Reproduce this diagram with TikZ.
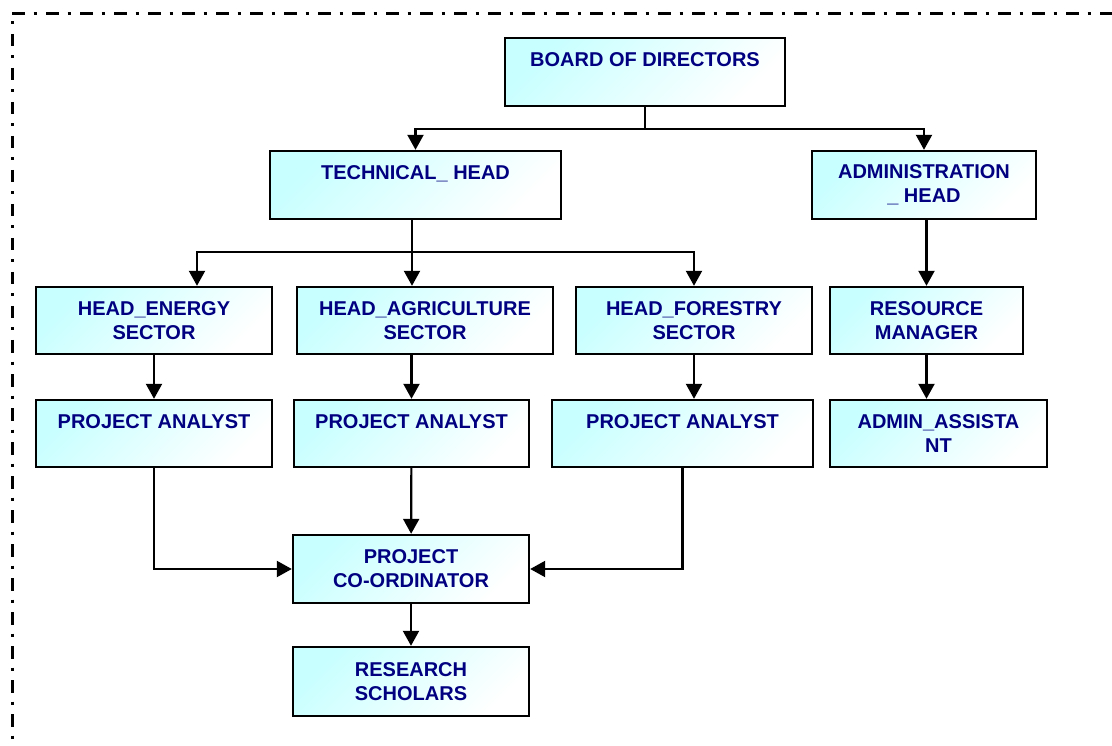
\documentclass[tikz,border=0pt]{standalone}
\usepackage{fontspec}
\setmainfont{Liberation Sans}
\usetikzlibrary{arrows.meta}
\definecolor{boxcyan}{RGB}{200,255,255}
\definecolor{navytext}{RGB}{0,0,128}
\begin{document}
\begin{tikzpicture}[x=1pt, y=-1pt,
    box/.style={rectangle, draw, line width=2.4pt, inner sep=0pt, top color=boxcyan, bottom color=white, shading angle=45, align=center, text=navytext, font=\fontsize{20}{24}\selectfont\bfseries},
    link/.style={line width=2.2pt},
    arr/.style={line width=2.2pt, -{Triangle[length=15pt, width=16pt]}},
    frame/.style={line width=3pt, dash pattern=on 12.5pt off 9pt on 3pt off 9.5pt}]
      \useasboundingbox (0,0) rectangle (1112,746);
      \draw[frame] (12,14) -- (1112,14);
      \draw[frame, dash phase=14pt] (12,14) -- (12,746);

      \node[box, minimum width=280, minimum height=68] at (645,72)      (bod)      {BOARD OF DIRECTORS\\\mbox{}};
      \node[box, minimum width=291, minimum height=68] at (415.5,185)   (tech)     {TECHNICAL\_ HEAD\\\mbox{}};
      \node[box, minimum width=224, minimum height=68] at (924,185)     (admin)    {ADMINISTRATION\\\_ HEAD};
      \node[box, minimum width=236, minimum height=67] at (154,320.5)   (energy)   {HEAD\_ENERGY\\SECTOR};
      \node[box, minimum width=256, minimum height=67] at (425,320.5)   (agri)     {HEAD\_AGRICULTURE\\SECTOR};
      \node[box, minimum width=236, minimum height=67] at (694,320.5)   (forestry) {HEAD\_FORESTRY\\SECTOR};
      \node[box, minimum width=193, minimum height=67] at (926.5,320.5) (resource) {RESOURCE\\MANAGER};
      \node[box, minimum width=236, minimum height=67] at (154,433.5)   (pa1)      {PROJECT ANALYST\\\mbox{}};
      \node[box, minimum width=235, minimum height=67] at (411.5,433.5) (pa2)      {PROJECT ANALYST\\\mbox{}};
      \node[box, minimum width=261, minimum height=67] at (682.5,433.5) (pa3)      {PROJECT ANALYST\\\mbox{}};
      \node[box, minimum width=217, minimum height=67] at (938.5,433.5) (asst)     {ADMIN\_ASSISTA\\NT};
      \node[box, minimum width=236, minimum height=68] at (411,569)     (pc)       {PROJECT\\CO-ORDINATOR};
      \node[box, minimum width=236, minimum height=69] at (411,681.5)   (rs)       {RESEARCH\\SCHOLARS};

      \draw[link] (bod.south) -- ++(0,22) coordinate (bodj);
      \draw[arr]  (bodj) -| (tech.north);
      \draw[arr]  (bodj) -| (admin.north);
      \draw[link] ([xshift=-3.5pt]tech.south) -- ++(0,32) coordinate (techj);
      \draw[arr]  (techj) -| ([xshift=43pt]energy.north);
      \draw[arr]  (techj) -- (techj |- agri.north);
      \draw[arr]  (techj) -| (forestry.north);
      \draw[arr]  (resource.north |- admin.south) -- (resource.north);
      \draw[arr]  (energy) -- (pa1);
      \draw[arr]  (agri.south -| pa2.north) -- (pa2.north);
      \draw[arr]  (forestry.south) -- (forestry.south |- pa3.north);
      \draw[arr]  (resource.south) -- (resource.south |- asst.north);
      \draw[arr]  (pa1.south) |- (pc.west);
      \draw[arr]  (pa2) -- (pc);
      \draw[arr]  (pa3.south) |- (pc.east);
      \draw[arr]  (pc) -- (rs);
    \end{tikzpicture}
\end{document}
